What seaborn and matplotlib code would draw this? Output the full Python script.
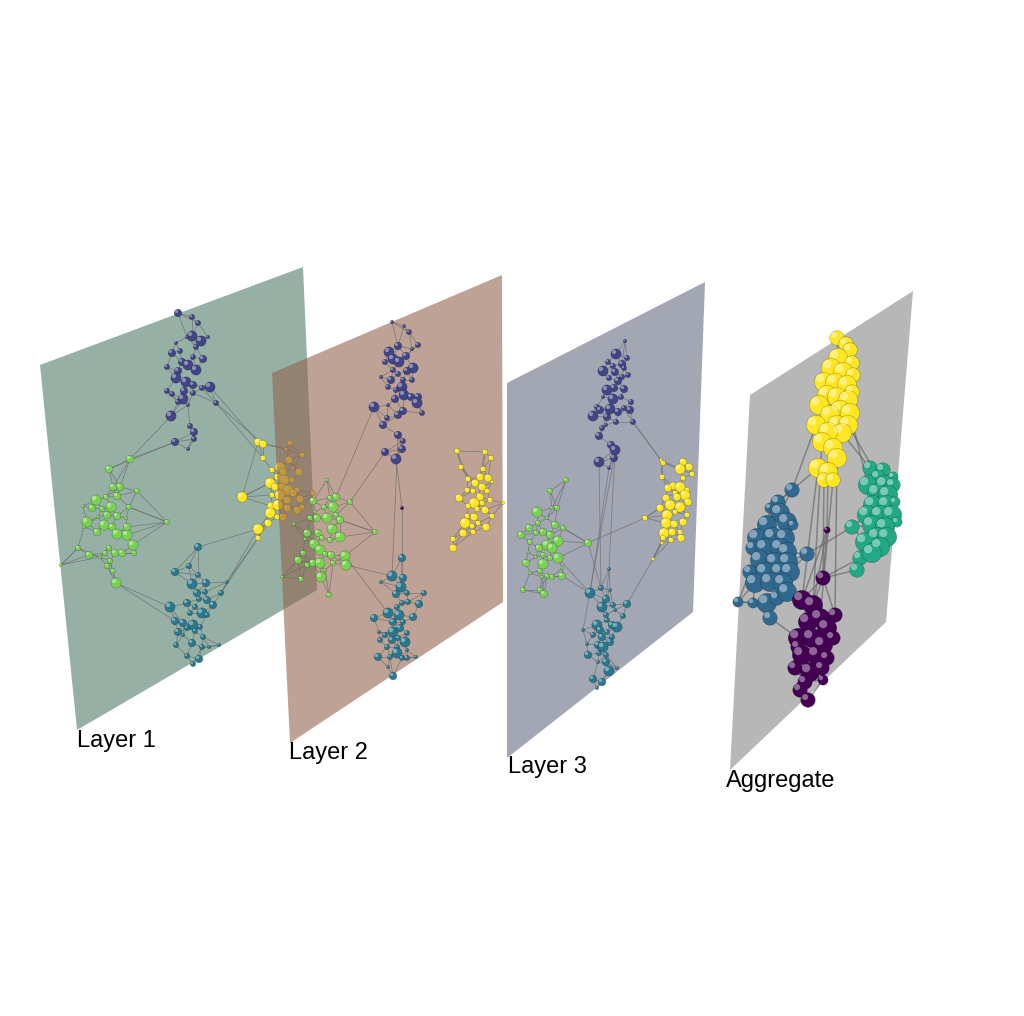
import numpy as np
import pandas as pd
import seaborn as sns
import matplotlib.pyplot as plt
from matplotlib.collections import LineCollection
from matplotlib.patches import Polygon

# node lists: (x, y, size class) in picture coordinates, one list per community and layer
L1_BLUE = [(178, 313, 3), (192, 317, 2), (198, 323, 2), (192, 336, 4), (187, 337, 1), (201, 341, 4),
           (208, 337, 1), (196, 347, 2), (176, 343, 1), (172, 353, 3), (180, 351, 2), (193, 357, 2),
           (203, 359, 3), (182, 362, 3), (188, 365, 4), (196, 370, 4), (167, 367, 2), (178, 371, 3),
           (176, 378, 4), (186, 382, 4), (193, 385, 3), (202, 388, 2), (210, 387, 4), (167, 391, 2),
           (172, 394, 2), (184, 391, 3), (193, 393, 2), (183, 399, 4), (178, 402, 2), (188, 405, 1),
           (216, 403, 2), (171, 416, 4), (190, 426, 2), (194, 432, 3), (175, 442, 3), (194, 439, 2),
           (188, 449, 1)]
L1_GREEN = [(130, 459, 3), (109, 469, 3), (113, 487, 3), (120, 487, 3), (137, 491, 2), (83, 506, 1),
            (96, 500, 4), (106, 497, 2), (117, 496, 3), (129, 507, 2), (92, 508, 3), (102, 509, 2),
            (111, 507, 4), (87, 522, 4), (107, 515, 3), (117, 516, 3), (126, 518, 1), (98, 517, 1),
            (104, 525, 4), (112, 527, 3), (97, 532, 3), (117, 534, 4), (127, 535, 4), (127, 527, 3),
            (167, 522, 2), (84, 527, 1), (133, 545, 4), (78, 548, 2), (89, 555, 3), (109, 548, 2),
            (105, 553, 2), (115, 553, 3), (122, 553, 3), (134, 553, 2), (100, 557, 1), (110, 561, 2),
            (107, 566, 2), (113, 571, 2), (116, 583, 4), (61, 565, 1)]
L1_YELLOW = [(258, 442, 3), (263, 444, 3), (263, 458, 2), (272, 470, 2), (270, 483, 4), (275, 487, 3),
             (242, 497, 4), (272, 495, 2), (271, 506, 3), (270, 513, 4), (268, 523, 3), (258, 529, 4),
             (258, 538, 2), (290, 443, 2), (286, 449, 1), (302, 455, 2), (289, 460, 3), (280, 467, 4),
             (283, 472, 3), (293, 468, 1), (299, 472, 3), (278, 477, 3), (284, 480, 4), (292, 480, 2),
             (282, 487, 3), (288, 490, 4), (297, 490, 2), (280, 495, 4), (293, 493, 3), (287, 500, 3),
             (300, 499, 3), (278, 505, 4), (287, 508, 3), (297, 510, 3), (302, 507, 2), (283, 517, 3),
             (277, 517, 2), (313, 493, 2)]
L1_TEAL = [(198, 547, 3), (175, 572, 3), (189, 566, 2), (192, 584, 4), (198, 575, 2), (206, 583, 3),
           (197, 593, 3), (205, 592, 2), (187, 603, 3), (170, 607, 4), (199, 599, 2), (207, 600, 3),
           (213, 605, 3), (195, 607, 2), (202, 613, 4), (190, 613, 2), (207, 615, 2), (175, 621, 3),
           (183, 623, 3), (193, 625, 4), (187, 628, 2), (200, 627, 2), (178, 632, 3), (195, 631, 2),
           (203, 637, 2), (183, 635, 1), (192, 643, 3), (202, 647, 2), (209, 647, 1), (176, 645, 2),
           (219, 645, 1), (187, 656, 2), (199, 659, 3), (193, 664, 2), (227, 582, 1), (221, 593, 2)]

L2_BLUE = [(392, 322, 1), (404, 326, 1), (409, 332, 2), (418, 345, 2), (398, 346, 3), (412, 349, 1),
           (389, 352, 4), (393, 359, 4), (399, 362, 4), (406, 356, 3), (385, 362, 2), (413, 368, 4),
           (407, 371, 3), (393, 370, 2), (398, 374, 2), (381, 377, 1), (391, 380, 3), (403, 380, 2),
           (412, 380, 2), (402, 387, 4), (404, 395, 4), (411, 397, 3), (418, 397, 3), (417, 403, 4),
           (396, 390, 2), (388, 387, 2), (374, 407, 4), (395, 399, 3), (388, 405, 1), (403, 411, 3),
           (398, 415, 3), (387, 418, 2), (383, 425, 3), (422, 413, 2), (398, 435, 3), (403, 441, 2),
           (402, 449, 3), (385, 452, 3), (396, 459, 4)]
L2_PURPLE = [(402, 508, 1)]
L2_GREEN = [(327, 480, 1), (330, 498, 2), (336, 497, 3), (350, 502, 2), (313, 501, 3), (324, 507, 2),
            (333, 507, 4), (315, 512, 1), (336, 515, 2), (310, 518, 2), (294, 524, 1), (317, 518, 3),
            (327, 518, 4), (340, 520, 3), (307, 533, 3), (318, 533, 3), (332, 529, 4), (340, 537, 4),
            (314, 544, 4), (322, 538, 2), (330, 540, 2), (305, 539, 1), (375, 532, 2), (320, 550, 4),
            (303, 553, 2), (325, 554, 2), (331, 555, 3), (345, 556, 4), (298, 560, 3), (307, 565, 2),
            (313, 563, 3), (320, 563, 4), (333, 563, 2), (346, 565, 4), (325, 570, 1), (282, 577, 1),
            (301, 579, 2), (321, 577, 4), (329, 595, 2)]
L2_YELLOW = [(457, 451, 2), (485, 452, 2), (491, 458, 2), (461, 467, 2), (483, 469, 2), (468, 479, 2),
             (480, 477, 3), (488, 478, 3), (475, 483, 3), (492, 482, 1), (482, 487, 3), (467, 490, 2),
             (473, 491, 2), (487, 491, 2), (478, 494, 1), (459, 498, 3), (480, 497, 3), (490, 500, 2),
             (474, 503, 4), (468, 506, 2), (482, 503, 2), (503, 503, 1), (477, 509, 2), (485, 510, 3),
             (492, 516, 2), (467, 516, 2), (474, 517, 3), (465, 523, 4), (478, 523, 2), (472, 526, 2),
             (486, 527, 3), (463, 533, 3), (453, 539, 2), (473, 532, 2), (453, 548, 3)]
L2_TEAL = [(402, 558, 3), (392, 576, 4), (403, 578, 3), (381, 582, 1), (401, 587, 4), (396, 594, 3),
           (407, 593, 2), (424, 593, 2), (402, 603, 2), (408, 602, 2), (419, 604, 3), (397, 607, 2),
           (374, 618, 3), (388, 613, 4), (399, 615, 4), (413, 617, 3), (393, 622, 3), (403, 622, 2),
           (379, 632, 1), (385, 635, 2), (393, 632, 4), (400, 628, 3), (407, 633, 2), (380, 640, 2),
           (392, 640, 3), (398, 638, 2), (405, 642, 4), (387, 647, 2), (397, 647, 2), (397, 653, 4),
           (407, 650, 1), (378, 657, 3), (390, 657, 2), (402, 658, 2), (407, 658, 2), (416, 657, 1),
           (388, 667, 1), (393, 676, 3)]

L3_BLUE = [(625, 341, 1), (616, 354, 4), (627, 358, 2), (608, 362, 2), (613, 366, 2), (622, 364, 3),
           (603, 371, 4), (615, 372, 3), (624, 368, 2), (628, 375, 2), (609, 378, 2), (618, 381, 3),
           (622, 377, 2), (614, 388, 3), (624, 389, 3), (607, 390, 4), (603, 397, 1), (613, 399, 4),
           (621, 397, 2), (631, 402, 2), (597, 407, 2), (610, 409, 4), (618, 412, 3), (630, 410, 3),
           (624, 408, 2), (593, 416, 4), (600, 410, 3), (607, 417, 3), (616, 422, 2), (606, 425, 1),
           (633, 422, 2), (602, 428, 2), (599, 436, 3), (611, 445, 3), (615, 450, 4), (614, 458, 3),
           (599, 462, 4), (609, 468, 1)]
L3_YELLOW = [(661, 460, 1), (663, 463, 2), (683, 462, 3), (689, 467, 3), (680, 469, 4), (692, 474, 2),
             (662, 477, 2), (683, 478, 2), (673, 486, 3), (680, 487, 4), (668, 488, 3), (687, 490, 2),
             (675, 493, 2), (685, 495, 4), (666, 498, 3), (677, 497, 3), (688, 502, 3), (670, 505, 4),
             (680, 507, 4), (660, 508, 3), (675, 512, 2), (667, 515, 4), (687, 515, 2), (683, 522, 3),
             (666, 523, 4), (674, 524, 3), (664, 533, 4), (672, 532, 3), (680, 532, 2), (663, 538, 2),
             (671, 540, 2), (681, 538, 3), (662, 543, 1), (653, 559, 1), (645, 518, 2)]
L3_GREEN = [(566, 480, 2), (550, 491, 2), (552, 508, 1), (557, 508, 2), (537, 512, 4), (547, 518, 1),
            (555, 525, 3), (563, 528, 2), (529, 528, 3), (538, 523, 2), (543, 532, 3), (521, 535, 3),
            (536, 533, 2), (550, 535, 3), (558, 541, 4), (530, 542, 2), (547, 545, 4), (539, 548, 3),
            (552, 548, 4), (528, 552, 1), (558, 558, 4), (536, 557, 1), (543, 555, 2), (550, 558, 2),
            (526, 563, 3), (543, 564, 4), (540, 571, 2), (562, 568, 1), (530, 573, 1), (547, 576, 2),
            (552, 577, 2), (542, 577, 1), (562, 576, 3), (588, 543, 3), (523, 590, 2), (540, 590, 2),
            (544, 594, 3)]
L3_TEAL = [(609, 569, 1), (601, 588, 2), (610, 590, 1), (590, 593, 4), (606, 599, 3), (602, 607, 4),
           (627, 604, 3), (613, 605, 2), (615, 610, 1), (623, 616, 2), (606, 615, 2), (597, 625, 4),
           (607, 620, 2), (617, 627, 4), (612, 625, 3), (583, 630, 1), (600, 630, 3), (607, 632, 2),
           (593, 635, 2), (602, 637, 3), (612, 637, 2), (587, 644, 1), (598, 645, 3), (610, 642, 3),
           (603, 647, 4), (588, 655, 3), (599, 653, 2), (606, 655, 2), (598, 662, 1), (606, 662, 3),
           (617, 668, 1), (609, 671, 4), (593, 679, 3), (602, 682, 3), (597, 688, 1)]

AGG_YELLOW = [(837, 338, 3), (846, 344, 3), (850, 350, 3), (838, 358, 4), (852, 363, 3), (831, 368, 4),
              (843, 372, 4), (853, 375, 3), (824, 382, 4), (835, 383, 4), (847, 385, 4), (852, 392, 3),
              (827, 395, 4), (837, 397, 4), (848, 400, 4), (840, 410, 4), (850, 413, 4), (819, 405, 4),
              (830, 415, 4), (816, 425, 4), (837, 425, 4), (848, 425, 4), (842, 433, 4), (828, 432, 4),
              (822, 442, 4), (833, 448, 4), (837, 458, 4), (818, 468, 4), (828, 472, 4), (824, 480, 3),
              (833, 480, 3)]
AGG_GREEN = [(870, 468, 3), (883, 470, 3), (878, 477, 3), (893, 477, 2), (868, 485, 4), (885, 485, 4),
             (893, 485, 3), (877, 493, 4), (888, 495, 4), (873, 505, 4), (887, 505, 4), (895, 502, 2),
             (867, 515, 4), (880, 515, 4), (892, 515, 4), (897, 522, 2), (852, 527, 3), (872, 525, 4),
             (885, 527, 4), (877, 537, 4), (887, 537, 4), (865, 542, 4), (880, 547, 4), (860, 558, 3),
             (872, 553, 4), (857, 570, 3)]
AGG_BLUE = [(792, 490, 3), (778, 502, 3), (770, 508, 2), (780, 513, 4), (767, 525, 4), (787, 522, 4),
            (793, 525, 2), (757, 538, 4), (773, 537, 4), (785, 538, 4), (753, 548, 3), (765, 548, 4),
            (780, 548, 4), (787, 552, 4), (760, 560, 4), (775, 562, 4), (788, 562, 4), (807, 554, 3),
            (750, 572, 3), (765, 572, 4), (780, 572, 4), (790, 572, 4), (755, 583, 4), (770, 582, 4),
            (783, 583, 4), (738, 602, 2), (753, 603, 2), (767, 603, 4), (777, 598, 3), (770, 618, 3),
            (787, 592, 4)]
AGG_PURPLE = [(827, 530, 1), (823, 578, 3), (802, 600, 4), (813, 605, 4), (820, 618, 4), (835, 615, 3),
              (808, 622, 4), (827, 628, 4), (833, 638, 3), (798, 638, 4), (812, 638, 4), (823, 645, 4),
              (802, 655, 4), (817, 655, 4), (827, 658, 3), (795, 668, 3), (810, 672, 4), (822, 668, 3),
              (805, 682, 3), (800, 690, 3), (808, 700, 3), (823, 680, 2), (798, 647, 3)]

# links between communities: (community, node index) pairs
L1_LINKS = [(('blue', 22), ('yellow', 0)), (('blue', 30), ('yellow', 1)), (('blue', 30), ('yellow', 2)),
            (('green', 0), ('blue', 31)), (('green', 1), ('blue', 34)), (('green', 0), ('blue', 34)),
            (('green', 38), ('teal', 9)), (('green', 38), ('teal', 17)), (('teal', 0), ('yellow', 11)),
            (('teal', 34), ('yellow', 12)), (('teal', 35), ('yellow', 12)), (('teal', 35), ('yellow', 11)),
            (('yellow', 6), ('yellow', 0)), (('yellow', 6), ('yellow', 4)), (('green', 4), ('green', 24)),
            (('green', 9), ('green', 24)), (('green', 22), ('green', 24)), (('green', 27), ('green', 39))]
L2_LINKS = [(('blue', 26), ('green', 2)), (('blue', 37), ('green', 3)), (('blue', 38), ('purple', 0)),
            (('purple', 0), ('teal', 0)), (('blue', 34), ('teal', 1)), (('green', 33), ('teal', 1)),
            (('green', 27), ('teal', 13)), (('green', 22), ('green', 3)), (('green', 22), ('green', 13))]
L3_LINKS = [(('blue', 30), ('yellow', 0)), (('blue', 30), ('yellow', 1)), (('green', 7), ('green', 33)),
            (('green', 33), ('yellow', 34)), (('yellow', 34), ('yellow', 19)), (('green', 20), ('teal', 3)),
            (('green', 32), ('teal', 3)), (('teal', 6), ('yellow', 33)), (('yellow', 33), ('yellow', 29)),
            (('blue', 36), ('teal', 1)), (('blue', 37), ('teal', 3)), (('blue', 34), ('teal', 0)),
            (('blue', 35), ('teal', 15)), (('green', 33), ('teal', 1))]
AGG_LINKS = [(('yellow', 29), ('purple', 1)), (('yellow', 30), ('purple', 4)), (('yellow', 27), ('purple', 2)),
             (('yellow', 24), ('purple', 3)), (('yellow', 26), ('purple', 5)), (('yellow', 19), ('blue', 0)),
             (('yellow', 27), ('blue', 0)), (('yellow', 22), ('green', 0)), (('yellow', 16), ('green', 4)),
             (('yellow', 21), ('green', 2)), (('blue', 17), ('green', 16)), (('blue', 29), ('purple', 9)),
             (('blue', 30), ('purple', 2)), (('green', 25), ('purple', 1)), (('green', 23), ('purple', 1)),
             (('yellow', 28), ('purple', 0)), (('blue', 25), ('blue', 18))]

LAYER_NAMES = ['Layer 1', 'Layer 2', 'Layer 3', 'Aggregate']
PLANES = {'Layer 1': [(40, 365), (303, 267), (317, 590), (77, 730)],
          'Layer 2': [(272, 373), (502, 275), (503, 602), (290, 743)],
          'Layer 3': [(507, 383), (705, 282), (693, 612), (507, 758)],
          'Aggregate': [(750, 395), (913, 291), (886, 622), (730, 770)]}
PLANE_COLORS = {'Layer 1': ('#96b0a6', 1.0), 'Layer 2': ('#94644f', 0.6),
                'Layer 3': ('#a3a7b4', 1.0), 'Aggregate': ('#b7b7b7', 1.0)}
LABEL_POS = {'Layer 1': (77, 741), 'Layer 2': (289, 753), 'Layer 3': (508, 767), 'Aggregate': (726, 781)}

LAYER_PAL = {'blue': '#414487', 'green': '#7ad151', 'yellow': '#fde725', 'teal': '#2a788e', 'purple': '#440154'}
AGG_PAL = {'yellow': '#fde725', 'green': '#22a884', 'blue': '#31688e', 'purple': '#440154'}
LAYER_SIZES = {1: 6, 2: 15, 3: 30, 4: 55}
AGG_SIZES = {1: 22, 2: 55, 3: 110, 4: 195}


def knn_segments(nodes, k):
    pts = np.array([(x, y) for x, y, _ in nodes], float)
    if len(pts) < 2:
        return []
    d = np.hypot(pts[:, None, 0] - pts[None, :, 0], pts[:, None, 1] - pts[None, :, 1])
    np.fill_diagonal(d, np.inf)
    pairs = set()
    for i in range(len(pts)):
        for j in np.argsort(d[i])[:k]:
            pairs.add((min(i, j), max(i, j)))
    return [[pts[i], pts[j]] for i, j in pairs]


def draw_layer(ax, clusters, links, pal, sizes, z, lw, k):
    segs = []
    for nodes in clusters.values():
        segs += knn_segments(nodes, k)
    for (ca, ia), (cb, ib) in links:
        segs.append([clusters[ca][ia][:2], clusters[cb][ib][:2]])
    ax.add_collection(LineCollection(segs, colors='0.42', alpha=0.7, linewidths=lw, zorder=z))

    rows = [dict(x=x, y=y, size=s, comm=name) for name, nodes in clusters.items() for x, y, s in nodes]
    df = pd.DataFrame(rows)
    sns.scatterplot(data=df, x='x', y='y', hue='comm', palette=pal, size='size', sizes=sizes,
                    edgecolor=(0, 0, 0, 0.3), linewidth=0.4, legend=False, ax=ax, zorder=z + 0.1)
    # small highlight to give the balls some volume
    diam = np.sqrt(df['size'].map(sizes)) / 0.72
    df['hx'] = df['x'] - 0.2 * diam
    df['hy'] = df['y'] - 0.2 * diam
    sns.scatterplot(data=df, x='hx', y='hy', size='size', sizes={kk: v * 0.18 for kk, v in sizes.items()},
                    color='white', alpha=0.4, linewidth=0, legend=False, ax=ax, zorder=z + 0.2)


sns.set_theme(style='white')
plt.rcParams['font.family'] = ['Liberation Sans', 'DejaVu Sans']

fig = plt.figure(figsize=(10.24, 10.16), dpi=100)
ax = fig.add_axes([0, 0, 1, 1])

layers = {
    'Layer 1': ({'blue': L1_BLUE, 'green': L1_GREEN, 'yellow': L1_YELLOW, 'teal': L1_TEAL}, L1_LINKS),
    'Layer 2': ({'blue': L2_BLUE, 'purple': L2_PURPLE, 'green': L2_GREEN, 'yellow': L2_YELLOW,
                 'teal': L2_TEAL}, L2_LINKS),
    'Layer 3': ({'blue': L3_BLUE, 'yellow': L3_YELLOW, 'green': L3_GREEN, 'teal': L3_TEAL}, L3_LINKS),
    'Aggregate': ({'yellow': AGG_YELLOW, 'green': AGG_GREEN, 'blue': AGG_BLUE, 'purple': AGG_PURPLE},
                  AGG_LINKS),
}

for n, name in enumerate(LAYER_NAMES):
    z = 1 + 4 * n
    col, alpha = PLANE_COLORS[name]
    ax.add_patch(Polygon(PLANES[name], closed=True, facecolor=col, alpha=alpha, edgecolor='none', zorder=z))
    clusters, links = layers[name]
    if name == 'Aggregate':
        draw_layer(ax, clusters, links, AGG_PAL, AGG_SIZES, z + 1, 1.1, 3)
    else:
        draw_layer(ax, clusters, links, LAYER_PAL, LAYER_SIZES, z + 1, 0.6, 3)
    lx, ly = LABEL_POS[name]
    ax.text(lx, ly, name, fontsize=17, ha='left', va='center', color='black', zorder=30)

ax.set_xlim(0, 1024)
ax.set_ylim(1016, 0)
ax.set_axis_off()
fig.savefig('out.png', dpi=100)
